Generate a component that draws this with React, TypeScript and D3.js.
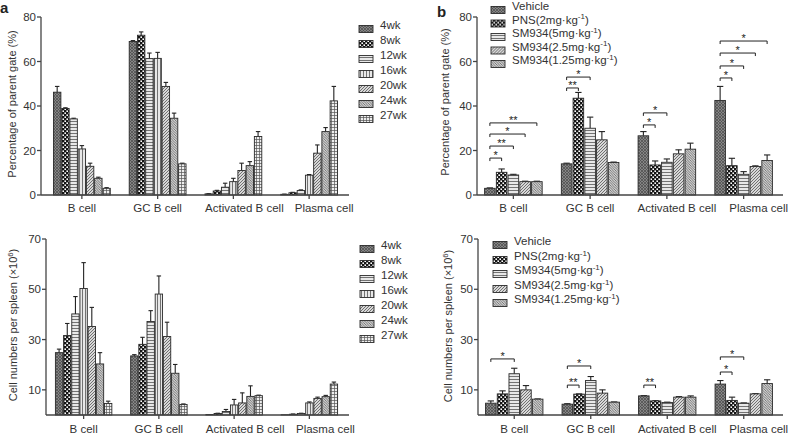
import React from "react";
import * as d3 from "d3";

// ---------------- DATA ----------------
const categories = ["B cell", "GC B cell", "Activated B cell", "Plasma cell"];
const weekSeries = ["4wk", "8wk", "12wk", "16wk", "20wk", "24wk", "27wk"];
const treatSeries = [
  "Vehicle",
  "PNS(2mg·kg⁻¹)",
  "SM934(5mg·kg⁻¹)",
  "SM934(2.5mg·kg⁻¹)",
  "SM934(1.25mg·kg⁻¹)",
];

const pctTicks = [0, 20, 40, 60, 80];
const cellTicks = [10, 30, 50, 70];

// panel a, top: percentage of parent gate, rows = weeks, cols = categories
const pctWeekMean = [
  [46.2, 69.0, 0.5, 0.3],
  [38.9, 71.8, 1.8, 1.0],
  [34.2, 61.3, 3.5, 2.0],
  [20.7, 61.4, 6.0, 8.9],
  [12.9, 48.8, 11.0, 18.8],
  [7.5, 34.5, 13.2, 28.5],
  [3.0, 14.0, 26.3, 42.3],
];
const pctWeekErr = [
  [2.6, 0.4, 0.1, 0.1],
  [0.3, 1.5, 0.3, 0.2],
  [0.3, 2.5, 1.8, 0.3],
  [1.5, 2.7, 1.5, 0.3],
  [1.4, 1.8, 3.3, 3.7],
  [0.5, 2.3, 1.8, 1.8],
  [0.3, 0.3, 2.2, 6.5],
];

// panel a, bottom: cell numbers per spleen
const cellWeekMean = [
  [24.8, 23.5, 0.2, 0.1],
  [31.6, 28.1, 0.6, 0.3],
  [40.2, 37.2, 1.4, 0.6],
  [50.3, 48.1, 4.0, 4.8],
  [35.2, 31.2, 4.8, 6.6],
  [20.3, 16.6, 7.4, 7.3],
  [4.6, 4.2, 7.7, 12.3],
];
const cellWeekErr = [
  [1.4, 0.5, 0.0, 0.0],
  [4.8, 2.8, 0.1, 0.1],
  [6.9, 4.3, 0.8, 0.1],
  [10.3, 7.2, 2.2, 0.4],
  [7.6, 5.7, 4.0, 0.5],
  [4.5, 3.5, 4.2, 0.5],
  [0.9, 0.2, 0.2, 0.8],
];

// panel b, top
const pctTreatMean = [
  [3.0, 14.0, 26.6, 42.5],
  [10.2, 43.5, 13.5, 13.2],
  [9.0, 30.0, 14.7, 9.3],
  [6.0, 24.8, 18.5, 12.8],
  [6.0, 14.6, 20.6, 15.5],
];
const pctTreatErr = [
  [0.2, 0.3, 1.9, 6.3],
  [1.5, 2.6, 1.8, 3.3],
  [0.3, 5.0, 1.5, 1.2],
  [0.2, 3.7, 1.8, 0.3],
  [0.2, 0.2, 2.7, 2.5],
];

// panel b, bottom
const cellTreatMean = [
  [4.7, 4.3, 7.6, 12.3],
  [8.4, 8.3, 5.6, 5.8],
  [16.4, 13.7, 5.0, 4.7],
  [10.0, 8.7, 7.1, 8.4],
  [6.3, 5.1, 7.1, 12.5],
];
const cellTreatErr = [
  [0.9, 0.2, 0.1, 1.4],
  [1.2, 0.1, 0.1, 1.3],
  [2.2, 1.6, 0.1, 0.1],
  [1.7, 1.3, 0.2, 0.1],
  [0.1, 0.1, 0.5, 1.5],
];

// significance brackets: [category index, from series, to series, level (data units), label]
const pctTreatSig: [number, number, number, number, string][] = [
  [0, 0, 1, 16.6, "*"],
  [0, 0, 2, 22.0, "**"],
  [0, 0, 3, 27.4, "*"],
  [0, 0, 4, 32.4, "**"],
  [1, 0, 1, 48.1, "**"],
  [1, 0, 2, 53.0, "*"],
  [2, 0, 1, 31.5, "*"],
  [2, 0, 2, 36.9, "*"],
  [3, 0, 1, 52.6, "*"],
  [3, 0, 2, 58.0, "*"],
  [3, 0, 3, 63.8, "*"],
  [3, 0, 4, 69.2, "*"],
];
const cellTreatSig: [number, number, number, number, string][] = [
  [0, 0, 2, 22.3, "*"],
  [1, 0, 1, 11.9, "**"],
  [1, 0, 2, 19.5, "*"],
  [2, 0, 1, 11.9, "**"],
  [3, 0, 1, 17.1, "*"],
  [3, 0, 2, 23.1, "*"],
];

const pctTitle = "Percentage of parent gate (%)";
const cellTitle = "Cell numbers per spleen (×10⁶)";

// ---------------- STYLE ----------------
const FONT = "Liberation Sans, Arial, Helvetica, sans-serif";
const TXT = "#333";
const AX = "#444";
const weekPatterns = ["dense", "check", "hline", "vline", "diag", "diag2", "grid"];
const treatPatterns = ["dense", "check", "hline", "diag", "diag2"];

const supMap: Record<string, string> = { "⁻": "-", "¹": "1", "⁶": "6" };
function RichText({ s, size }: { s: string; size: number }) {
  const parts = s.split(/([⁻¹⁶]+)/).filter((p) => p.length);
  const out: any[] = [];
  let raised = false;
  parts.forEach((p, i) => {
    const isSup = /^[⁻¹⁶]+$/.test(p);
    if (isSup) {
      out.push(
        <tspan key={i} dy={-size * 0.38} fontSize={size * 0.7}>
          {p.split("").map((c) => supMap[c] || c).join("")}
        </tspan>
      );
      raised = true;
    } else {
      out.push(
        <tspan key={i} dy={raised ? size * 0.38 : 0}>
          {p}
        </tspan>
      );
      raised = false;
    }
  });
  return <>{out}</>;
}

function Patterns() {
  return (
    <defs>
      <pattern id="dense" width="3" height="3" patternUnits="userSpaceOnUse">
        <rect width="3" height="3" fill="#858585" />
        <path d="M0,0L3,3M3,0L0,3" stroke="#4a4a4a" strokeWidth="0.7" />
      </pattern>
      <pattern id="check" width="4" height="4" patternUnits="userSpaceOnUse">
        <rect width="4" height="4" fill="#151515" />
        <rect x="0.4" y="0.4" width="1.6" height="1.6" fill="#fff" />
        <rect x="2.4" y="2.4" width="1.6" height="1.6" fill="#fff" />
      </pattern>
      <pattern id="hline" width="3" height="3" patternUnits="userSpaceOnUse">
        <rect width="3" height="3" fill="#e8e8e8" />
        <path d="M0,1.5L3,1.5" stroke="#555" strokeWidth="0.8" />
      </pattern>
      <pattern id="vline" width="3" height="3" patternUnits="userSpaceOnUse">
        <rect width="3" height="3" fill="#e8e8e8" />
        <path d="M1.5,0L1.5,3" stroke="#555" strokeWidth="0.8" />
      </pattern>
      <pattern id="diag" width="3" height="3" patternUnits="userSpaceOnUse">
        <rect width="3" height="3" fill="#d8d8d8" />
        <path d="M0,3L3,0M-1,1L1,-1M2,4L4,2" stroke="#555" strokeWidth="0.8" />
      </pattern>
      <pattern id="diag2" width="2.5" height="2.5" patternUnits="userSpaceOnUse">
        <rect width="2.5" height="2.5" fill="#cfcfcf" />
        <path d="M0,0L2.5,2.5M-1,1.5L1,3.5M1.5,-1L3.5,1" stroke="#555" strokeWidth="0.7" />
      </pattern>
      <pattern id="grid" width="3" height="3" patternUnits="userSpaceOnUse">
        <rect width="3" height="3" fill="#eee" />
        <path d="M0,1.5L3,1.5M1.5,0L1.5,3" stroke="#555" strokeWidth="0.7" />
      </pattern>
    </defs>
  );
}

type PanelProps = {
  axisX: number;
  axisEnd: number;
  bandRange: [number, number];
  yBottom: number;
  yTop: number;
  yMax: number;
  ticks: number[];
  means: number[][];
  errs: number[][];
  names: string[];
  pats: string[];
  legendX: number;
  legendY: number[];
  title: string;
  titleX: number;
  titleY: number;
  labelDx: number[];
  labelY: number;
  sig?: [number, number, number, number, string][];
};

function Panel(p: PanelProps) {
  const x = d3
    .scaleBand<string>()
    .domain(categories)
    .range(p.bandRange)
    .paddingInner(0.25)
    .paddingOuter(0.125);
  const xi = d3
    .scaleBand<number>()
    .domain(d3.range(p.names.length))
    .range([0, x.bandwidth()])
    .paddingInner(0.1);
  const y = d3.scaleLinear().domain([0, p.yMax]).range([p.yBottom, p.yTop]);
  const bw = xi.bandwidth();
  const cap = bw * 0.6;

  return (
    <g fontFamily={FONT}>
      {p.means.map((row, si) =>
        row.map((v, ci) => {
          const bx = (x(categories[ci]) as number) + (xi(si) as number);
          const top = y(v);
          const e = p.errs[si][ci];
          const cx = bx + bw / 2;
          return (
            <g key={`${si}-${ci}`}>
              {e > 0 && (
                <g stroke="#222" strokeWidth={1.1}>
                  <line x1={cx} x2={cx} y1={top} y2={y(v + e)} />
                  <line x1={cx - cap / 2} x2={cx + cap / 2} y1={y(v + e)} y2={y(v + e)} />
                </g>
              )}
              <rect
                x={bx}
                y={top}
                width={bw}
                height={Math.max(0, y(0) - top)}
                fill={`url(#${p.pats[si]})`}
                stroke="#2a2a2a"
                strokeWidth={0.9}
              />
            </g>
          );
        })
      )}
      {(p.sig || []).map(([ci, a, b, lvl, lab], i) => {
        const base = x(categories[ci]) as number;
        const x1 = base + (xi(a) as number) + bw / 2;
        const x2 = base + (xi(b) as number) + bw / 2;
        const yy = y(lvl);
        return (
          <g key={"s" + i}>
            <path
              d={`M${x1},${yy + 3}L${x1},${yy}L${x2},${yy}L${x2},${yy + 3}`}
              fill="none"
              stroke="#222"
              strokeWidth={1}
            />
            <text x={(x1 + x2) / 2} y={yy + 1} textAnchor="middle" fontSize={11} fill="#222">
              {lab}
            </text>
          </g>
        );
      })}
      <g stroke={AX} strokeWidth={1.3} fill="none">
        <line x1={p.axisX} x2={p.axisX} y1={y(0)} y2={y(p.yMax)} />
        <line x1={p.axisX} x2={p.axisEnd} y1={y(0)} y2={y(0)} />
        {p.ticks.map((t) => (
          <line key={"yt" + t} x1={p.axisX - 4} x2={p.axisX} y1={y(t)} y2={y(t)} />
        ))}
        {categories.map((c) => {
          const cx = (x(c) as number) + x.bandwidth() / 2;
          return <line key={"xt" + c} x1={cx} x2={cx} y1={y(0)} y2={y(0) + 4} />;
        })}
      </g>
      {p.ticks.map((t) => (
        <text
          key={"yl" + t}
          x={p.axisX - 5}
          y={y(t)}
          dy="0.35em"
          textAnchor="end"
          fontSize={11.5}
          fill={TXT}
        >
          {t}
        </text>
      ))}
      {categories.map((c, i) => (
        <text
          key={"xl" + c}
          x={(x(c) as number) + x.bandwidth() / 2 + p.labelDx[i]}
          y={p.labelY}
          textAnchor="middle"
          fontSize={11.5}
          fill={TXT}
        >
          {c}
        </text>
      ))}
      <text
        transform={`translate(${p.titleX},${p.titleY}) rotate(-90)`}
        textAnchor="middle"
        dy="0.35em"
        fontSize={11}
        fill={TXT}
      >
        <RichText s={p.title} size={11} />
      </text>
      {p.names.map((n, i) => (
        <g key={"lg" + i} transform={`translate(${p.legendX},${p.legendY[i]})`}>
          <rect x={0} y={-3.5} width={14} height={7} fill={`url(#${p.pats[i]})`} stroke="#2a2a2a" strokeWidth={0.9} />
          <text x={21} y={0} dy="0.35em" fontSize={11.5} fill={TXT}>
            <RichText s={n} size={11.5} />
          </text>
        </g>
      ))}
    </g>
  );
}

export default function App() {
  return (
    <svg
      width={789}
      height={435}
      style={{ position: "absolute", left: 0, top: 0, background: "#fff" }}
    >
      <Patterns />
      <rect width={789} height={435} fill="#fff" />
      <text x={0} y={13} fontFamily={FONT} fontWeight="bold" fontSize={15} fill="#222">
        a
      </text>
      <text x={437} y={17} fontFamily={FONT} fontWeight="bold" fontSize={15} fill="#222">
        b
      </text>
      <Panel
        axisX={41}
        axisEnd={349}
        bandRange={[44, 347]}
        yBottom={195}
        yTop={17}
        yMax={80}
        ticks={pctTicks}
        means={pctWeekMean}
        errs={pctWeekErr}
        names={weekSeries}
        pats={weekPatterns}
        legendX={359}
        legendY={[29, 44, 59, 74, 89, 104, 119]}
        title={pctTitle}
        titleX={16}
        titleY={104}
        labelDx={[0, 0, 11, 15]}
        labelY={212}
      />
      <Panel
        axisX={46}
        axisEnd={349}
        bandRange={[46, 347]}
        yBottom={415}
        yTop={239}
        yMax={70}
        ticks={cellTicks}
        means={cellWeekMean}
        errs={cellWeekErr}
        names={weekSeries}
        pats={weekPatterns}
        legendX={360}
        legendY={[249, 264, 279, 294, 309, 324, 339]}
        title={cellTitle}
        titleX={17}
        titleY={325}
        labelDx={[0, 0, 11, 16]}
        labelY={433}
      />
      <Panel
        axisX={477}
        axisEnd={783}
        bandRange={[475, 782]}
        yBottom={195}
        yTop={17}
        yMax={80}
        ticks={pctTicks}
        means={pctTreatMean}
        errs={pctTreatErr}
        names={treatSeries}
        pats={treatPatterns}
        legendX={491}
        legendY={[10, 23.5, 37, 50.5, 64]}
        title={pctTitle}
        titleX={449}
        titleY={102}
        labelDx={[0, 0, 10, 15]}
        labelY={212}
        sig={pctTreatSig}
      />
      <Panel
        axisX={478}
        axisEnd={783}
        bandRange={[476, 782]}
        yBottom={415}
        yTop={239}
        yMax={70}
        ticks={cellTicks}
        means={cellTreatMean}
        errs={cellTreatErr}
        names={treatSeries}
        pats={treatPatterns}
        legendX={493}
        legendY={[245, 260, 274, 289, 303]}
        title={cellTitle}
        titleX={452}
        titleY={326}
        labelDx={[0, 0, 10, 15]}
        labelY={433}
        sig={cellTreatSig}
      />
    </svg>
  );
}
